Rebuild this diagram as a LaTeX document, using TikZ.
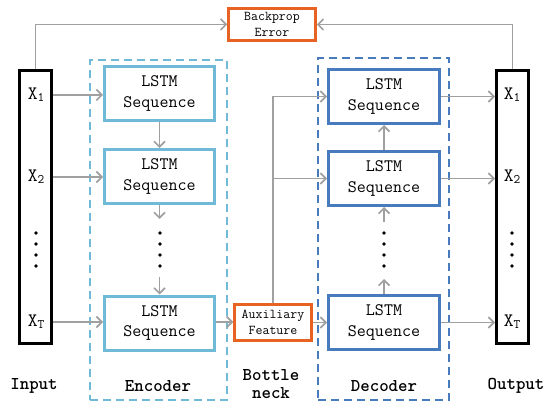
\documentclass[tikz,border=0pt]{standalone}
\usetikzlibrary{arrows.meta}
\definecolor{encblue}{RGB}{112,186,216}
\definecolor{decblue}{RGB}{72,122,190}
\definecolor{orng}{RGB}{232,98,36}
\definecolor{arrgray}{RGB}{160,160,160}
\begin{document}
\begin{tikzpicture}[x=1pt,y=-1pt,
  every node/.style={font=\ttfamily},
  bar/.style={draw=black,line width=3pt,minimum width=32pt,minimum height=273pt,inner sep=0pt},
  encbox/.style={draw=encblue,line width=3pt,minimum width=110pt,minimum height=54pt,inner sep=0pt,align=center,font=\ttfamily\fontsize{17.5}{20.5}\selectfont},
  decbox/.style={draw=decblue,line width=3pt,minimum width=111pt,minimum height=54pt,inner sep=0pt,align=center,font=\ttfamily\fontsize{17.5}{20.5}\selectfont},
  obox/.style={draw=orng,line width=2.5pt,inner sep=0pt,align=center,font=\ttfamily\fontsize{13.5}{16}\selectfont},
  frame/.style={dashed,dash pattern=on 8pt off 5pt,line width=1.5pt,inner sep=0pt},
  arr/.style={draw=arrgray,line width=1.6pt,-{Straight Barb[length=5.5pt,width=11pt,line width=1.6pt]}},
  xlab/.style={inner sep=0pt,font=\ttfamily\fontsize{19}{20}\selectfont},
  lab/.style={inner sep=0pt,font=\ttfamily\bfseries\fontsize{18}{20}\selectfont,align=center},
  dot/.style={circle,fill=black,inner sep=0pt,minimum size=3.8pt}
]
\useasboundingbox (0,0) rectangle (543,403);

% frames
\node[frame,draw=encblue,minimum width=137pt,minimum height=340pt] (encframe) at (158.5,230) {};
\node[frame,draw=decblue,minimum width=131pt,minimum height=342pt] (decframe) at (383.5,229) {};

% bars
\node[bar] (inbar) at (35.5,207) {};
\node[bar] (outbar) at (512.5,207) {};

% encoder boxes
\node[encbox] (enc1) at (159.5,93.5) {LSTM\\Sequence};
\node[encbox] (enc2) at (159.5,176.5) {LSTM\\Sequence};
\node[encbox] (enc3) at (159.5,323) {LSTM\\Sequence};

% decoder boxes
\node[decbox] (dec1) at (384,96.5) {LSTM\\Sequence};
\node[decbox] (dec2) at (384,178.5) {LSTM\\Sequence};
\node[decbox] (dec3) at (384,322.5) {LSTM\\Sequence};

% orange boxes
\node[obox,minimum width=87pt,minimum height=32pt] (bp) at (272,24.5) {Backprop\\Error};
\node[obox,minimum width=77pt,minimum height=36pt] (aux) at (273,322.5) {Auxiliary\\Feature};

% X labels
\node[xlab] (x1) at (36,95) {X\raisebox{-0.12em}{\fontsize{13}{13}\selectfont 1}};
\node[xlab] (x2) at (36,177) {X\raisebox{-0.12em}{\fontsize{13}{13}\selectfont 2}};
\node[xlab] (xt) at (36,322) {X\raisebox{-0.12em}{\fontsize{13}{13}\selectfont T}};
\node[xlab] (y1) at (512,95) {X\raisebox{-0.12em}{\fontsize{13}{13}\selectfont 1}};
\node[xlab] (y2) at (512,177) {X\raisebox{-0.12em}{\fontsize{13}{13}\selectfont 2}};
\node[xlab] (yt) at (512,322) {X\raisebox{-0.12em}{\fontsize{13}{13}\selectfont T}};

% dots
\foreach \yy [count=\i] in {233,244,255,266}{
  \node[dot] (ind\i) at (36,\yy) {};
  \node[dot] (outd\i) at (512,\yy) {};
  \node[dot] (encd\i) at (160,\yy) {};
  \node[dot] (decd\i) at (384,\yy) {};
}

% bottom labels
\node[lab] (linput) at (34,386) {Input};
\node[lab] (lenc) at (158,386) {Encoder};
\node[lab] (ldec) at (384,386) {Decoder};
\node[lab] (lout) at (516,386) {Output};
\node[lab] (lbn) at (271,375) {Bottle};
\node[lab] (lbn2) at (271,393) {neck};

% backprop connectors
\draw[arr] (inbar.north) |- (bp.west);
\draw[arr] (outbar.north) |- (bp.east);

% inputs
\draw[arr] (inbar.east |- x1) -- (enc1.west |- x1);
\draw[arr] (inbar.east |- x2) -- (enc2.west |- x2);
\draw[arr] (inbar.east |- xt) -- (enc3.west |- xt);

% encoder chain
\draw[arr] (enc1.south) -- (enc2.north);
\coordinate (e2b) at (159.5,219);
\coordinate (e3t) at (159.5,277);
\draw[arr] (enc2.south) -- (e2b);
\draw[arr] (e3t) -- (enc3.north);

% bottleneck
\draw[arr] (enc3.east |- xt) -- (aux.west |- xt);
\draw[arr] (aux.east) -- (dec3.west);
\draw[arr] (aux.north) |- (dec1.west);
\draw[arr] (aux.north |- dec2.west) -- (dec2.west);

% decoder chain
\coordinate (d3t) at (384,279);
\coordinate (d2b) at (384,222);
\draw[arr] (dec3.north) -- (d3t);
\draw[arr] (d2b) -- (dec2.south);
\draw[arr] (dec2.north) -- (dec1.south);

% outputs
\draw[arr] (dec1.east) -- (outbar.west |- dec1.east);
\draw[arr] (dec2.east) -- (outbar.west |- dec2.east);
\draw[arr] (dec3.east) -- (outbar.west |- dec3.east);
\end{tikzpicture}
\end{document}
